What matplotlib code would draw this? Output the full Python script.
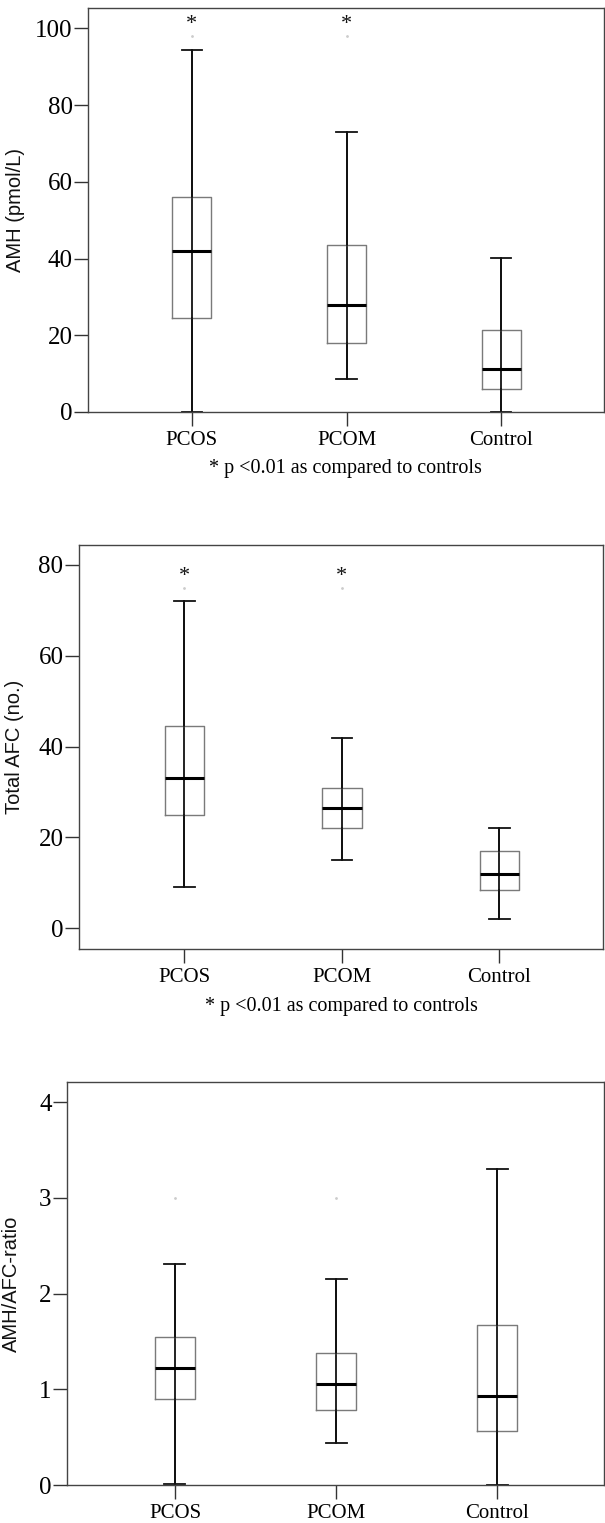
import matplotlib
matplotlib.use("Agg")
import matplotlib.pyplot as plt

categories = ["PCOS", "PCOM", "Control"]

# Panel 1: AMH (pmol/L)
amh_whislo = [0.0, 8.5, 0.0]
amh_q1 = [24.4, 17.9, 6.1]
amh_med = [42.0, 27.8, 11.2]
amh_q3 = [56.0, 43.6, 21.4]
amh_whishi = [94.4, 72.9, 40.1]
amh_outliers = [[98.0], [98.0], []]
amh_star = [102.0, 102.0, None]

# Panel 2: Total AFC (no.)
afc_whislo = [9.0, 15.0, 2.0]
afc_q1 = [25.0, 22.0, 8.5]
afc_med = [33.0, 26.5, 12.0]
afc_q3 = [44.5, 31.0, 17.0]
afc_whishi = [72.0, 42.0, 22.0]
afc_outliers = [[75.0], [75.0], []]
afc_star = [78.2, 78.2, None]

# Panel 3: AMH/AFC-ratio
ratio_whislo = [0.01, 0.44, 0.0]
ratio_q1 = [0.90, 0.78, 0.56]
ratio_med = [1.22, 1.06, 0.93]
ratio_q3 = [1.55, 1.38, 1.67]
ratio_whishi = [2.31, 2.15, 3.30]
ratio_outliers = [[3.0], [3.0], []]
ratio_star = [None, None, None]

amh_ticks = [0, 20, 40, 60, 80, 100]
afc_ticks = [0, 20, 40, 60, 80]
ratio_ticks = [0, 1, 2, 3, 4]

note_text = "* p <0.01 as compared to controls"

W, H = 605, 1523
fig = plt.figure(figsize=(W / 100, H / 100), dpi=100)

serif = "Liberation Serif"
sans = "Liberation Sans"


def px_axes(left, right, top, bottom):
    return fig.add_axes([left / W, 1 - bottom / H, (right - left) / W, (bottom - top) / H])


def draw_panel(ax, whislo, q1, med, q3, whishi, outliers, stars, ticks, ylim,
               ylabel, label_x, note=None):
    stats = []
    for i, c in enumerate(categories):
        stats.append(dict(label=c, whislo=whislo[i], q1=q1[i], med=med[i],
                          q3=q3[i], whishi=whishi[i], fliers=outliers[i]))
    pos = [1, 2, 3]
    # whisker line runs through the box (SPSS style)
    ax.vlines(pos, whislo, whishi, color="#111111", linewidth=1.3, zorder=1,
              clip_on=False)
    ax.bxp(stats, positions=pos, widths=0.25, capwidths=0.13,
           showfliers=True,
           boxprops=dict(color="#7a7a7a", linewidth=1.0),
           whiskerprops=dict(color="#111111", linewidth=1.3),
           capprops=dict(color="#111111", linewidth=1.3),
           medianprops=dict(color="#000000", linewidth=2.2),
           flierprops=dict(marker="o", markersize=1.0, markerfacecolor="#cccccc",
                           markeredgecolor="#cccccc", linestyle="none"))
    for art in ax.lines:
        art.set_clip_on(False)
    for i, s in enumerate(stars):
        if s is not None:
            ax.annotate("*", (pos[i], s), xytext=(0, -2.5), textcoords="offset points",
                        ha="center", va="center", fontsize=16,
                        family=serif, color="#111111")
    ax.set_xlim(0.33, 3.66)
    ax.set_ylim(*ylim)
    ax.set_yticks(ticks)
    ax.set_yticklabels([str(t) for t in ticks], family=serif, fontsize=18)
    ax.set_xticks(pos)
    ax.set_xticklabels(categories, family=serif, fontsize=15)
    ax.tick_params(axis="y", length=10, width=1.0, color="#333333", pad=1)
    ax.tick_params(axis="x", length=10, width=1.0, color="#333333", pad=4)
    for sp in ax.spines.values():
        sp.set_color("#444444")
        sp.set_linewidth(1.0)
    ax.set_ylabel(ylabel, family=sans, fontsize=14.5, color="#111111")
    ax.yaxis.set_label_coords(label_x, 0.5)
    if note:
        ax.text(0.5, note[0], note[1], transform=ax.transAxes, ha="center",
                va="center", family=serif, fontsize=14.5)


ax1 = px_axes(88, 603.5, 8, 412)
draw_panel(ax1, amh_whislo, amh_q1, amh_med, amh_q3, amh_whishi, amh_outliers,
           amh_star, amh_ticks, (0, 105.3), "AMH (pmol/L)", -0.122,
           note=((412 - 468) / 404, note_text))

ax2 = px_axes(78.7, 603.5, 545, 949)
draw_panel(ax2, afc_whislo, afc_q1, afc_med, afc_q3, afc_whishi, afc_outliers,
           afc_star, afc_ticks, (-4.55, 84.4), "Total AFC (no.)", -0.104,
           note=((949 - 1007) / 404, note_text))

ax3 = px_axes(67, 603.5, 1082, 1485)
draw_panel(ax3, ratio_whislo, ratio_q1, ratio_med, ratio_q3, ratio_whishi,
           ratio_outliers, ratio_star, ratio_ticks, (0, 4.21), "AMH/AFC-ratio",
           -0.0857)

fig.savefig("out.png", dpi=100)
